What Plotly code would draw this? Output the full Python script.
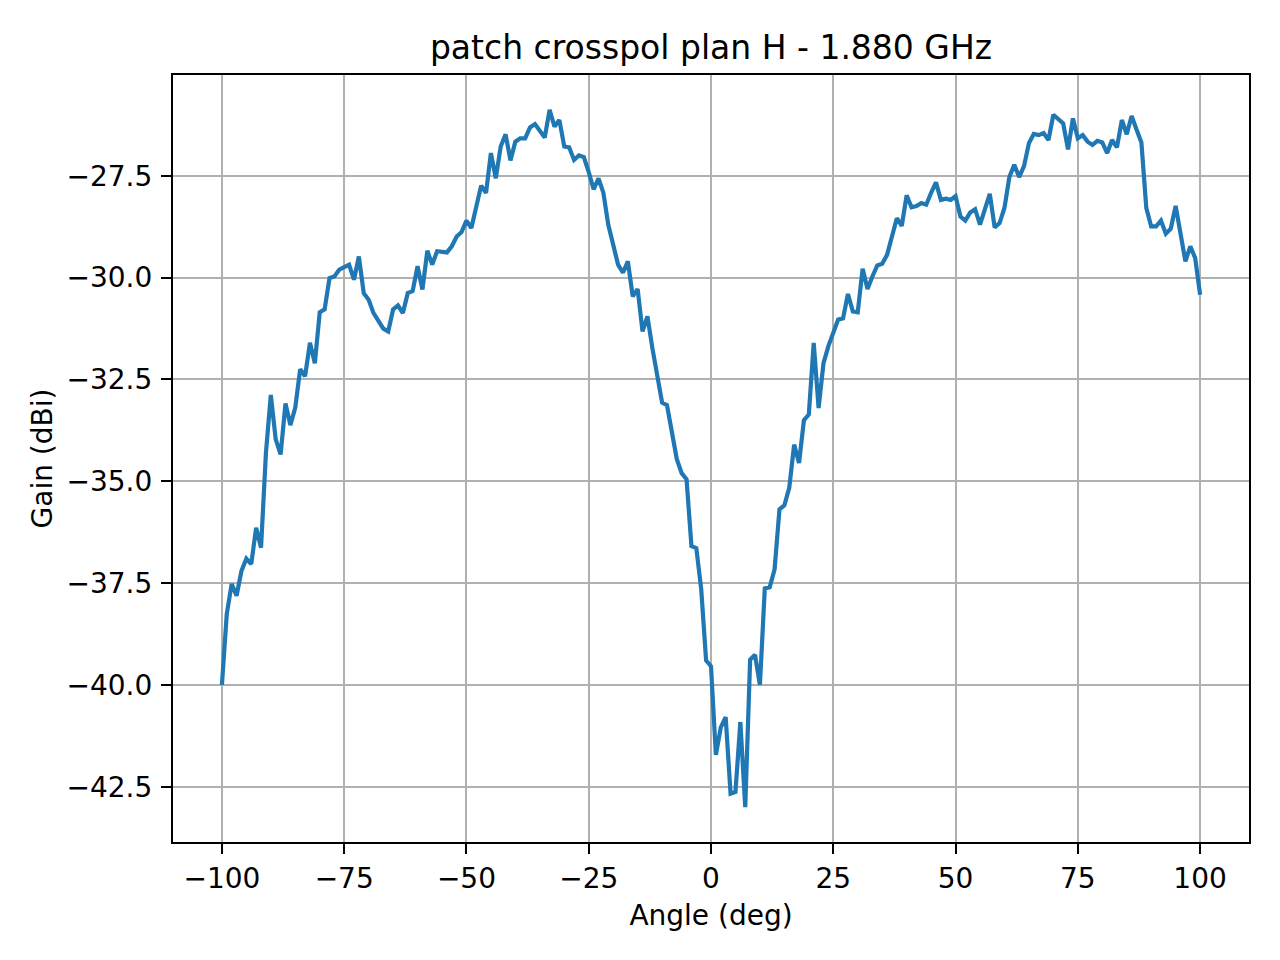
import plotly.graph_objects as go

# measured cross-pol gain, one sample per degree from -100 to 100
angle_deg = list(range(-100, 101))
gain_dbi = [
    -40.0, -38.25, -37.52, -37.81, -37.2, -36.9, -37.03, -36.14, -36.63, -34.3,
    -32.88, -33.97, -34.34, -33.09, -33.62, -33.19, -32.25, -32.42, -31.6, -32.1,
    -30.85, -30.78, -30.01, -29.97, -29.8, -29.75, -29.68, -30.05, -29.48, -30.38,
    -30.54, -30.87, -31.07, -31.25, -31.32, -30.78, -30.68, -30.87, -30.38, -30.33,
    -29.72, -30.29, -29.34, -29.68, -29.35, -29.37, -29.38, -29.23, -28.99, -28.88,
    -28.6, -28.78, -28.21, -27.74, -27.92, -26.94, -27.56, -26.78, -26.48, -27.12,
    -26.66, -26.58, -26.58, -26.31, -26.23, -26.41, -26.56, -25.88, -26.29, -26.13,
    -26.78, -26.8, -27.11, -27.0, -27.04, -27.41, -27.83, -27.56, -27.92, -28.7,
    -29.23, -29.68, -29.88, -29.6, -30.46, -30.28, -31.32, -30.95, -31.72, -32.38,
    -33.07, -33.13, -33.73, -34.45, -34.8, -34.95, -36.59, -36.64, -37.65, -39.4,
    -39.54, -41.72, -41.04, -40.79, -42.67, -42.63, -40.91, -43.0, -39.38, -39.26,
    -40.0, -37.63, -37.6, -37.16, -35.69, -35.59, -35.16, -34.1, -34.55, -33.5,
    -33.36, -31.6, -33.2, -32.1, -31.68, -31.36, -31.03, -31.0, -30.4, -30.83,
    -30.85, -29.78, -30.28, -29.97, -29.7, -29.66, -29.44, -28.99, -28.54, -28.73,
    -27.98, -28.27, -28.24, -28.17, -28.21, -27.92, -27.66, -28.09, -28.06, -28.09,
    -28.0, -28.5, -28.6, -28.4, -28.32, -28.7, -28.32, -27.94, -28.77, -28.66,
    -28.29, -27.53, -27.23, -27.53, -27.26, -26.7, -26.47, -26.5, -26.45, -26.62,
    -26.0, -26.09, -26.21, -26.85, -26.09, -26.58, -26.5, -26.66, -26.74, -26.64,
    -26.68, -26.94, -26.62, -26.8, -26.13, -26.48, -26.03, -26.36, -26.68, -28.29,
    -28.74, -28.74, -28.6, -28.92, -28.8, -28.24, -28.99, -29.6, -29.23, -29.52,
    -30.42,
]

x_tickvals = [-100, -75, -50, -25, 0, 25, 50, 75, 100]
x_ticktext = ["\u2212100", "\u221275", "\u221250", "\u221225", "0", "25", "50", "75", "100"]
y_tickvals = [-42.5, -40.0, -37.5, -35.0, -32.5, -30.0, -27.5]
y_ticktext = ["\u221242.5", "\u221240.0", "\u221237.5", "\u221235.0", "\u221232.5", "\u221230.0", "\u221227.5"]

font = "DejaVu Sans"

fig = go.Figure(go.Scatter(
    x=angle_deg,
    y=gain_dbi,
    mode="lines",
    line=dict(color="#1f77b4", width=4.2),
    showlegend=False,
))

axis_style = dict(
    showgrid=True,
    gridcolor="#b0b0b0",
    gridwidth=2.2,
    zeroline=False,
    showline=True,
    linecolor="black",
    linewidth=2.2,
    mirror=True,
    ticks="outside",
    ticklen=10,
    tickwidth=2.2,
    tickcolor="black",
    tickfont=dict(family=font, size=28, color="black"),
)

# page body adds 8px, so margins are shifted to keep the axes box in place
fig.update_layout(
    width=1280,
    height=960,
    paper_bgcolor="white",
    plot_bgcolor="white",
    margin=dict(l=165, r=39, t=67, b=126),
    title=dict(
        text="patch crosspol plan H - 1.880 GHz",
        font=dict(family=font, size=33, color="black"),
        x=0.5, xref="paper", xanchor="center",
        y=1 - 39 / 960, yref="container", yanchor="middle",
    ),
    xaxis=dict(
        axis_style,
        range=[-110, 110],
        tickvals=x_tickvals,
        ticktext=x_ticktext,
        title=dict(text="Angle (deg)", font=dict(family=font, size=28, color="black"), standoff=12),
    ),
    yaxis=dict(
        axis_style,
        range=[-43.856, -25.024],
        tickvals=y_tickvals,
        ticktext=y_ticktext,
        ticklabelstandoff=3,
        title=dict(text="Gain (dBi)", font=dict(family=font, size=28, color="black"), standoff=6),
    ),
)

fig.write_html("out.html")
